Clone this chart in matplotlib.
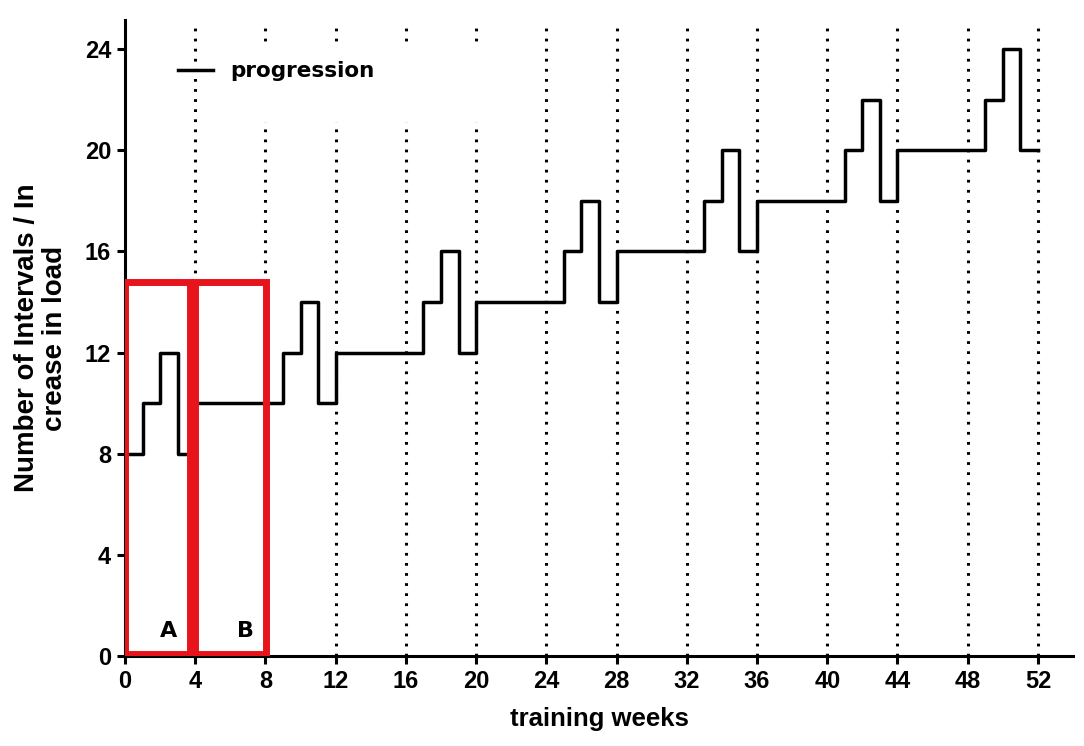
import matplotlib.pyplot as plt
from matplotlib.patches import Rectangle

# step progression: week where each level starts, and the level
weeks = [0, 1, 2, 3, 4, 9, 10, 11, 12, 17, 18, 19, 20, 25, 26, 27, 28,
         33, 34, 35, 36, 41, 42, 43, 44, 49, 50, 51, 52]
levels = [8, 10, 12, 8, 10, 12, 14, 10, 12, 14, 16, 12, 14, 16, 18, 14, 16,
          18, 20, 16, 18, 20, 22, 18, 20, 22, 24, 20, 20]

block_weeks = [4, 8, 12, 16, 20, 24, 28, 32, 36, 40, 44, 48, 52]
xticks = [0, 4, 8, 12, 16, 20, 24, 28, 32, 36, 40, 44, 48, 52]
yticks = [0, 4, 8, 12, 16, 20, 24]

# phase boxes (start week, end week, label)
phases = [(0.0, 3.7, "A"), (4.0, 8.05, "B")]
phase_top = 14.8

red = "#E8141C"
font = ["Liberation Sans", "DejaVu Sans"]

fig = plt.figure(figsize=(10.84, 7.46), dpi=100)
ax = fig.add_axes([0.1153, 0.1206, 0.8746, 0.8526])

ax.vlines(block_weeks, 0, 24.95, colors="black", linewidth=2.2,
          linestyles=(0, (0.9, 2.4)), zorder=1)

# white patch hiding the dotted lines behind the legend
ax.add_patch(Rectangle((5.0, 21.1), 17.0, 3.0, facecolor="white",
                       edgecolor="none", zorder=2))

ax.plot(weeks, levels, drawstyle="steps-post", color="black",
        linewidth=2.5, label="progression", zorder=3)

for x0, x1, name in phases:
    ax.add_patch(Rectangle((x0, 0.1), x1 - x0, phase_top - 0.1, fill=False,
                           edgecolor=red, linewidth=5, zorder=4))
    ax.text(x1 - 1.2, 0.6, name, fontsize=16, fontweight="bold",
            family=["DejaVu Sans"], ha="center", va="bottom", zorder=5)

ax.set_xlim(0, 54)
ax.set_ylim(0, 25.15)
ax.set_xticks(xticks)
ax.set_yticks(yticks)

for side in ["top", "right"]:
    ax.spines[side].set_visible(False)
for side in ["left", "bottom"]:
    ax.spines[side].set_linewidth(2.2)
ax.tick_params(direction="out", length=6, width=2.2, labelsize=17, pad=4)
for lab in ax.get_xticklabels() + ax.get_yticklabels():
    lab.set_fontweight("bold")
    lab.set_family(font)

ax.set_xlabel("training weeks", fontsize=18.5, fontweight="bold",
              family=font, labelpad=10)
ax.set_ylabel("Number of Intervals / In\ncrease in load", fontsize=20,
              fontweight="bold", family=font, labelpad=12, linespacing=1.1)

leg = ax.legend(loc="upper left", bbox_to_anchor=(0.045, 0.952),
                frameon=False, handlelength=1.6, handletextpad=0.8,
                borderpad=0, prop={"family": "DejaVu Sans", "weight": "bold",
                                   "size": 15.5})

plt.savefig("out.png", dpi=100)
plt.close()
